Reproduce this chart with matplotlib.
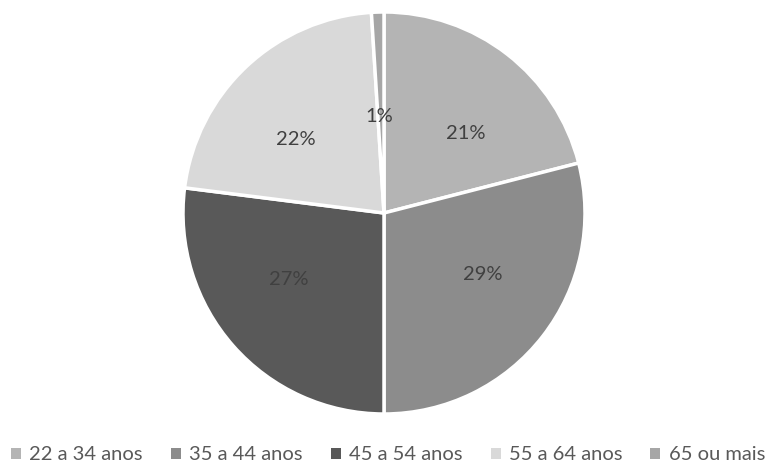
import matplotlib
matplotlib.use("Agg")
import matplotlib.pyplot as plt
from matplotlib.patches import Patch

categories = ["22 a 34 anos", "35 a 44 anos", "45 a 54 anos", "55 a 64 anos", "65 ou mais"]
shares = [21, 29, 27, 22, 1]
colors = ["#B4B4B4", "#8C8C8C", "#595959", "#D9D9D9", "#A6A6A6"]

plt.rcParams["font.family"] = ["Lato", "DejaVu Sans"]

W, H = 770, 474
fig = plt.figure(figsize=(W / 100, H / 100), dpi=100)
cx, cy, r = 384, 213, 201
ax = fig.add_axes([(cx - r) / W, (H - cy - r) / H, 2 * r / W, 2 * r / H])

wedges, texts = ax.pie(
    shares,
    colors=colors,
    startangle=90,
    counterclock=False,
    labels=[f"{v}%" for v in shares],
    labeldistance=0.5,
    wedgeprops=dict(edgecolor="white", linewidth=2.5),
    textprops=dict(color="#404040", fontsize=14.5),
)
# keep the thin last slice's label clear of the wedge edge
x, y = texts[-1].get_position()
texts[-1].set_position((x + 0.06, y - 0.02))

ax.set_xlim(-1, 1)
ax.set_ylim(-1, 1)
ax.set_aspect("equal")
ax.axis("off")

handles = [Patch(facecolor=c, edgecolor="none") for c in colors]
fig.legend(
    handles, categories,
    loc="center", bbox_to_anchor=(388 / W, 1 - 455 / H),
    ncol=5, frameon=False, fontsize=14.5,
    handlelength=0.5, handleheight=0.5, handletextpad=0.4,
    columnspacing=1.4, labelcolor="#595959",
)

fig.savefig("out.png", dpi=100)
